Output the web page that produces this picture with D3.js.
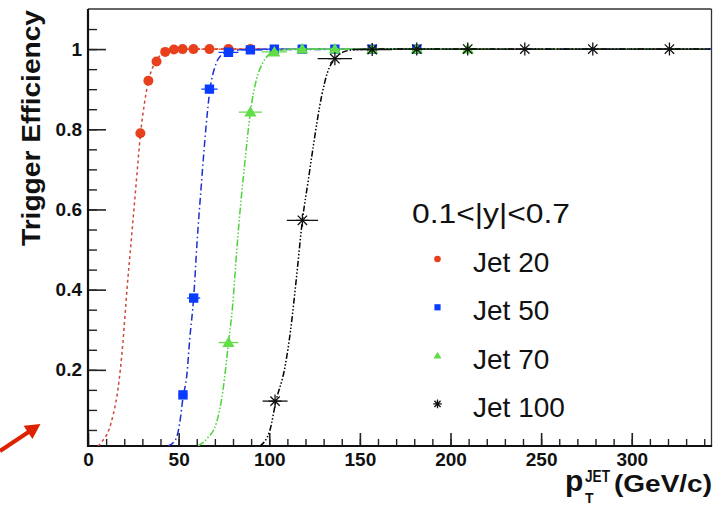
<!DOCTYPE html>
<html>
<head>
<meta charset="utf-8">
<script src="https://cdn.jsdelivr.net/npm/d3@7/dist/d3.min.js"></script>
<style>
  html, body { margin: 0; padding: 0; background: #fff; }
  svg { display: block; }
  text { font-family: "Liberation Sans", Arial, Helvetica, sans-serif; }
</style>
</head>
<body>
<svg id="chart" width="715" height="505"></svg>
<script>
// ---- axis ticks ----
const xMajorTicks = [0, 50, 100, 150, 200, 250, 300];
const yMajorTicks = [0.2, 0.4, 0.6, 0.8, 1];

// ---- measured efficiencies (bin centre, efficiency, half bin width) ----
const jet20X   = [28.9, 33.3, 37.8, 42.6, 47.4, 52.2, 58.2, 67.0, 77.5, 89.6];
const jet20Y   = [0.790, 0.921, 0.969, 0.993, 0.999, 1.0, 1.0, 1.0, 1.0, 1.0];
const jet20Err = [2.0, 2.2, 2.3, 2.3, 2.5, 2.5, 3.5, 4.5, 5.5, 6.5];

const jet50X   = [52.4, 58.3, 67.0, 77.5, 89.6, 102.8, 118.2, 136.2, 156.8, 181.4];
const jet50Y   = [0.1375, 0.379, 0.900, 0.992, 0.998, 1.0, 1.0, 1.0, 1.0, 1.0];
const jet50Err = [2.5, 3.6, 4.5, 5.5, 6.5, 7.0, 8.5, 9.5, 11.0, 13.0];

const jet70X   = [77.5, 89.6, 102.8, 118.2, 136.2, 156.8, 181.4, 209.5];
const jet70Y   = [0.268, 0.843, 0.993, 1.0, 1.0, 1.0, 1.0, 1.0];
const jet70Err = [5.5, 6.4, 7.0, 8.5, 9.5, 11.0, 13.0, 14.5];

const jet100X   = [103.2, 118.3, 136.2, 156.8, 181.4, 209.5, 241.0, 278.5, 320.8];
const jet100Y   = [0.122, 0.573, 0.976, 0.999, 1.0, 1.0, 1.0, 1.0, 1.0];
const jet100Err = [6.9, 8.6, 9.5, 11.0, 13.0, 14.5, 17.0, 19.5, 22.5];

// ---- turn-on fit curves ----
const jet20FitX = [5.5, 7.5, 11.5, 14.0, 16.5, 19.3, 21.5, 23.9, 26.1, 27.6, 29.0, 31.0, 33.3, 35.5, 37.8, 40.0, 42.6, 47.4, 55.0, 344];
const jet20FitY = [0.01, 0.02, 0.05, 0.09, 0.15, 0.27, 0.40, 0.525, 0.64, 0.72, 0.79, 0.86, 0.92, 0.952, 0.972, 0.985, 0.993, 0.999, 1.0, 1.0];

const jet50FitX = [44.1, 48.2, 50.6, 52.4, 54.6, 56.1, 58.3, 60.2, 62.5, 65.0, 67.3, 70.0, 73.5, 78.0, 90.0, 344];
const jet50FitY = [0.01, 0.025, 0.067, 0.13, 0.19, 0.275, 0.38, 0.52, 0.66, 0.80, 0.90, 0.955, 0.985, 0.995, 0.999, 1.0];

const jet70FitX = [60.7, 66.0, 70.8, 74.5, 77.5, 79.8, 81.6, 83.2, 84.8, 86.6, 89.6, 93.0, 96.0, 99.5, 104.0, 115.0, 344];
const jet70FitY = [0.01, 0.03, 0.067, 0.15, 0.268, 0.36, 0.47, 0.56, 0.64, 0.72, 0.843, 0.925, 0.962, 0.985, 0.995, 1.0, 1.0];

const jet100FitX = [94.9, 100.4, 103.5, 108.8, 111.8, 114.9, 118.3, 121.6, 124.3, 128.9, 132.0, 136.2, 141.0, 146.3, 160.0, 344];
const jet100FitY = [0.01, 0.05, 0.118, 0.21, 0.30, 0.425, 0.573, 0.675, 0.758, 0.883, 0.94, 0.976, 0.993, 0.998, 1.0, 1.0];

const legendTitle = "0.1<|y|<0.7";
const seriesNames = ["Jet 20", "Jet 50", "Jet 70", "Jet 100"];

// ---- series styling ----
const series = [
  { name: seriesNames[0], xs: jet20X, ys: jet20Y, ex: jet20Err, fx: jet20FitX, fy: jet20FitY,
    color: "#e8401c", lineColor: "#cc4a3a", dash: "3,3", marker: "circle" },
  { name: seriesNames[1], xs: jet50X, ys: jet50Y, ex: jet50Err, fx: jet50FitX, fy: jet50FitY,
    color: "#0a3cff", lineColor: "#1a2fd0", dash: "7,3,1.5,3", marker: "square" },
  { name: seriesNames[2], xs: jet70X, ys: jet70Y, ex: jet70Err, fx: jet70FitX, fy: jet70FitY,
    color: "#62dd48", lineColor: "#4fd23c", dash: "7,2,1.5,2,1.5,2", marker: "triangle" },
  { name: seriesNames[3], xs: jet100X, ys: jet100Y, ex: jet100Err, fx: jet100FitX, fy: jet100FitY,
    color: "#111111", lineColor: "#000000", dash: "6,2,1.5,2,1.5,2,1.5,2", marker: "star" }
];

const svg = d3.select("#chart");
const plotLeft = 88, plotRight = 711.5, plotTop = 9, plotBottom = 446;

const x = d3.scaleLinear().domain([0, 344]).range([plotLeft, plotRight]);
const y = d3.scaleLinear().domain([0.01, 1.1]).range([plotBottom, plotTop]);

// clip for curves
svg.append("defs").append("clipPath").attr("id", "plot-clip")
  .append("rect").attr("x", plotLeft).attr("y", plotTop)
  .attr("width", plotRight - plotLeft).attr("height", plotBottom - plotTop);

// ---- axes ----
const tickFont = "bold 19px 'Liberation Sans', Arial, sans-serif";

// minor y ticks every 0.05
const yMinor = d3.range(0.05, 1.1, 0.05).filter(v => v > 0.01);
svg.append("g").attr("transform", `translate(${plotLeft},0)`)
  .call(d3.axisLeft(y).tickValues(yMinor).tickSize(-9).tickFormat(""))
  .call(g => g.select(".domain").remove())
  .call(g => g.selectAll("line").attr("stroke", "#222").attr("stroke-width", 1.4));

svg.append("g").attr("transform", `translate(${plotLeft},0)`)
  .call(d3.axisLeft(y).tickValues(yMajorTicks).tickSize(-18).tickPadding(6)
    .tickFormat(d => d === 1 ? "1" : d3.format(".1f")(d)))
  .call(g => g.select(".domain").remove())
  .call(g => g.selectAll("line").attr("stroke", "#222").attr("stroke-width", 1.6))
  .call(g => g.selectAll("text").style("font", tickFont).attr("fill", "#111"));

// minor x ticks every 10
const xMinor = d3.range(10, 344, 10);
svg.append("g").attr("transform", `translate(0,${plotBottom})`)
  .call(d3.axisBottom(x).tickValues(xMinor).tickSize(-7).tickFormat(""))
  .call(g => g.select(".domain").remove())
  .call(g => g.selectAll("line").attr("stroke", "#222").attr("stroke-width", 1.4));

svg.append("g").attr("transform", `translate(0,${plotBottom})`)
  .call(d3.axisBottom(x).tickValues(xMajorTicks).tickSize(-13).tickPadding(7).tickFormat(d3.format("d")))
  .call(g => g.select(".domain").remove())
  .call(g => g.selectAll("line").attr("stroke", "#222").attr("stroke-width", 1.6))
  .call(g => g.selectAll("text").style("font", tickFont).attr("fill", "#111"));

// frame
svg.append("line").attr("x1", plotLeft).attr("x2", plotRight).attr("y1", plotTop).attr("y2", plotTop)
  .attr("stroke", "#333").attr("stroke-width", 1.3);
svg.append("line").attr("x1", plotRight).attr("x2", plotRight).attr("y1", plotTop).attr("y2", plotBottom)
  .attr("stroke", "#333").attr("stroke-width", 1.3);
svg.append("line").attr("x1", plotLeft).attr("x2", plotLeft).attr("y1", plotTop).attr("y2", plotBottom + 1)
  .attr("stroke", "#111").attr("stroke-width", 2.2);
svg.append("line").attr("x1", plotLeft - 1).attr("x2", plotRight + 0.6).attr("y1", plotBottom).attr("y2", plotBottom)
  .attr("stroke", "#111").attr("stroke-width", 2.2);

// ---- markers ----
function drawMarker(g, kind, cx, cy, s, color) {
  if (kind === "circle") {
    g.append("circle").attr("cx", cx).attr("cy", cy).attr("r", 5 * s).attr("fill", color);
  } else if (kind === "square") {
    g.append("path").attr("transform", `translate(${cx},${cy})`)
      .attr("d", d3.symbol(d3.symbolSquare, 88 * s * s)()).attr("fill", color);
  } else if (kind === "triangle") {
    g.append("path").attr("transform", `translate(${cx},${cy + 1 * s})`)
      .attr("d", d3.symbol(d3.symbolTriangle, 64 * s * s)()).attr("fill", color);
  } else {
    const r = 6.5 * s, d = r * 0.72;
    const p = d3.path();
    p.moveTo(cx - r, cy); p.lineTo(cx + r, cy);
    p.moveTo(cx, cy - r); p.lineTo(cx, cy + r);
    p.moveTo(cx - d, cy - d); p.lineTo(cx + d, cy + d);
    p.moveTo(cx - d, cy + d); p.lineTo(cx + d, cy - d);
    g.append("path").attr("d", p.toString()).attr("stroke", color)
      .attr("stroke-width", 1.3).attr("fill", "none");
  }
}

const line = d3.line().x(d => x(d[0])).y(d => y(d[1])).curve(d3.curveMonotoneX);

const plot = svg.append("g").attr("clip-path", "url(#plot-clip)");

series.forEach(s => {
  const g = plot.append("g");
  // fit curve
  g.append("path")
    .datum(s.fx.map((v, i) => [v, s.fy[i]]))
    .attr("d", line)
    .attr("fill", "none")
    .attr("stroke", s.lineColor)
    .attr("stroke-width", 1.5)
    .attr("stroke-dasharray", s.dash);
  // horizontal bin-width bars
  s.xs.forEach((v, i) => {
    g.append("line")
      .attr("x1", x(v - s.ex[i])).attr("x2", x(v + s.ex[i]))
      .attr("y1", y(s.ys[i])).attr("y2", y(s.ys[i]))
      .attr("stroke", s.color).attr("stroke-width", 1.3);
  });
  // points
  s.xs.forEach((v, i) => drawMarker(g, s.marker, x(v), y(s.ys[i]), 1, s.color));
});

// ---- legend ----
const legendFont = "28px 'Liberation Sans', Arial, sans-serif";
svg.append("text").attr("x", 412).attr("y", 223)
  .attr("textLength", 158).attr("lengthAdjust", "spacingAndGlyphs")
  .style("font", legendFont).attr("fill", "#111").text(legendTitle);

series.forEach((s, i) => {
  const base = 272 + i * 48.3;
  const lg = svg.append("g");
  drawMarker(lg, s.marker, 437.5, base - 13, 0.66, s.color);
  lg.append("text").attr("x", 473).attr("y", base)
    .style("font", legendFont).attr("fill", "#111").text(s.name);
});

// ---- axis titles ----
svg.append("text")
  .attr("transform", "translate(40,10) rotate(-90)")
  .attr("text-anchor", "end")
  .attr("textLength", 236).attr("lengthAdjust", "spacingAndGlyphs")
  .style("font", "bold 26px 'Liberation Sans', Arial, sans-serif")
  .attr("fill", "#111")
  .text("Trigger Efficiency");

const xt = svg.append("g").attr("fill", "#111");
xt.append("text").attr("x", 565).attr("y", 491)
  .style("font", "bold 30px 'Liberation Sans', Arial, sans-serif").text("p");
xt.append("text").attr("x", 585).attr("y", 481.5)
  .attr("textLength", 25).attr("lengthAdjust", "spacingAndGlyphs")
  .style("font", "bold 16px 'Liberation Sans', Arial, sans-serif").text("JET");
xt.append("text").attr("x", 585).attr("y", 503)
  .style("font", "bold 14px 'Liberation Sans', Arial, sans-serif").text("T");
xt.append("text").attr("x", 614).attr("y", 491.5)
  .attr("textLength", 98).attr("lengthAdjust", "spacingAndGlyphs")
  .style("font", "bold 23px 'Liberation Sans', Arial, sans-serif").text("(GeV/c)");

// ---- red pointer arrow at the low-efficiency region ----
const tail = [0, 451], tip = [40.5, 424];
const ux = tip[0] - tail[0], uy = tip[1] - tail[1];
const len = Math.hypot(ux, uy), nx = ux / len, ny = uy / len;
const headLen = 15, headHalf = 8;
const bx = tip[0] - headLen * nx, by = tip[1] - headLen * ny;
svg.append("line").attr("x1", tail[0]).attr("y1", tail[1]).attr("x2", bx + 2 * nx).attr("y2", by + 2 * ny)
  .attr("stroke", "#dd2200").attr("stroke-width", 4);
svg.append("path")
  .attr("d", `M${tip[0]},${tip[1]}L${bx - headHalf * ny},${by + headHalf * nx}L${bx + headHalf * ny},${by - headHalf * nx}Z`)
  .attr("fill", "#dd2200");
</script>
</body>
</html>
